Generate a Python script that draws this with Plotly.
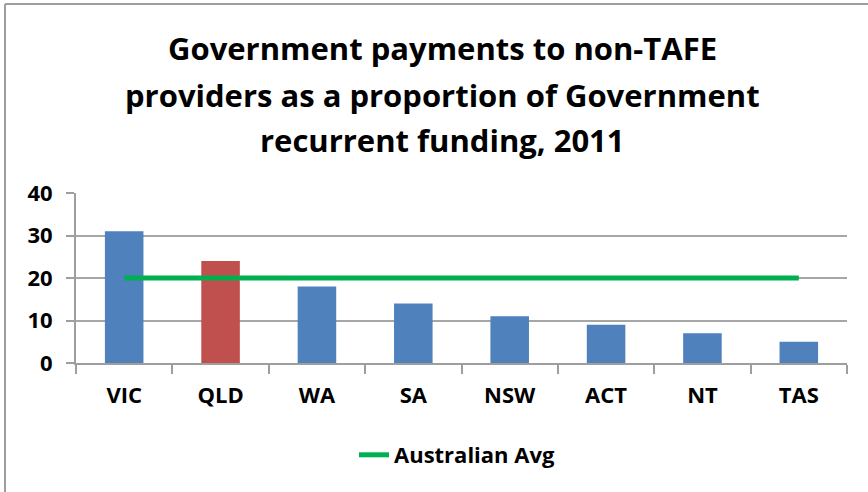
import plotly.graph_objects as go

categories = ["VIC", "QLD", "WA", "SA", "NSW", "ACT", "NT", "TAS"]
values = [31, 24, 18, 14, 11, 9, 7, 5]
bar_colors = ["#4F81BD", "#C0504D", "#4F81BD", "#4F81BD", "#4F81BD", "#4F81BD", "#4F81BD", "#4F81BD"]
avg_values = [20, 20, 20, 20, 20, 20, 20, 20]
title_lines = ["Government payments to non-TAFE",
               "providers as a proportion of Government",
               "recurrent funding, 2011"]
y_ticks = [0, 10, 20, 30, 40]

W, H = 868, 492
L, R, T, B = 76, 21, 193, 129
pw, ph = W - L - R, H - T - B

def px_x(x):
    return (x - L) / pw

def px_y(y):
    return (H - B - y) / ph

FONT = "Open Sans"

fig = go.Figure()
fig.add_trace(go.Bar(
    x=categories, y=values, marker=dict(color=bar_colors, line=dict(width=0)),
    showlegend=False, hoverinfo="x+y"))
fig.add_trace(go.Scatter(
    x=categories, y=avg_values, mode="lines", name="Australian Avg",
    line=dict(color="#00B050", width=5)))

title_y = [48, 95, 140]
for t, yy in zip(title_lines, title_y):
    fig.add_annotation(text=t, xref="paper", yref="paper", x=px_x(442), y=px_y(yy),
                       xanchor="center", yanchor="middle", showarrow=False,
                       font=dict(family=FONT, size=31, color="#000000", weight="bold"))

# chart frame (left and top edges)
fig.add_shape(type="line", xref="paper", yref="paper",
              x0=px_x(5), x1=px_x(5), y0=px_y(4), y1=px_y(500),
              line=dict(color="#9E9E9E", width=2))
fig.add_shape(type="line", xref="paper", yref="paper",
              x0=px_x(5), x1=px_x(880), y0=px_y(4), y1=px_y(4),
              line=dict(color="#9E9E9E", width=2))

fig.update_layout(
    width=W, height=H,
    margin=dict(l=L, r=R, t=T, b=B, autoexpand=False),
    paper_bgcolor="white", plot_bgcolor="white",
    bargap=0.6,
    font=dict(family=FONT, color="#000000"),
    legend=dict(orientation="h", x=px_x(457), y=px_y(455), xanchor="center", yanchor="middle",
                font=dict(family=FONT, size=22, color="#000000", weight="bold"),
                itemwidth=30, bgcolor="rgba(0,0,0,0)"),
)
fig.update_xaxes(
    type="category", showgrid=False, showline=True, linecolor="#9E9E9E", linewidth=2,
    ticks="outside", tickson="boundaries", ticklen=9, tickcolor="#9E9E9E", tickwidth=2,
    tickfont=dict(family=FONT, size=22, color="#000000", weight="bold"),
    ticklabelstandoff=12,
)
fig.update_yaxes(
    range=[0, 40], tickvals=y_ticks, showgrid=True, gridcolor="#A6A6A6", gridwidth=2,
    showline=True, linecolor="#9E9E9E", linewidth=2, zeroline=False,
    ticks="outside", ticklen=8, tickcolor="#9E9E9E", tickwidth=2,
    tickfont=dict(family=FONT, size=22, color="#000000", weight="bold"),
    ticklabelstandoff=9,
)

fig.write_html("out.html", config={"displayModeBar": False},
               post_script="document.body.style.margin='0';")
